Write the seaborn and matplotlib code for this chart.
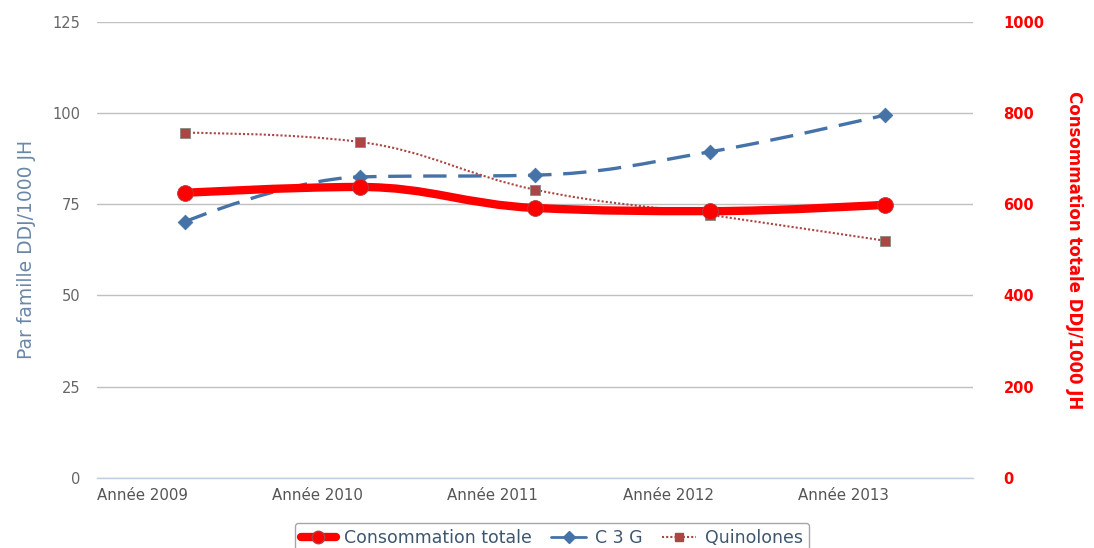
import numpy as np
import pandas as pd
import seaborn as sns
import matplotlib.pyplot as plt
from matplotlib.path import Path
from matplotlib.patches import PathPatch
from matplotlib.lines import Line2D

years = ['Année 2009', 'Année 2010', 'Année 2011', 'Année 2012', 'Année 2013']
conso_totale = [625, 638, 592, 585, 599]
c3g = [70.2, 82.5, 83.0, 89.4, 99.5]
quinolones = [94.6, 92.1, 79.0, 72.1, 65.0]

RED = '#FF0000'
BLUE = '#4572A7'
BROWN = '#AA4643'


def spline_path(xs, ys, smoothing=1.5):
    # cubic bezier through the points, same idea as the highcharts spline
    denom = smoothing + 1
    verts = [(xs[0], ys[0])]
    codes = [Path.MOVETO]
    ctrl = []
    n = len(xs)
    for i in range(n):
        if i == 0 or i == n - 1:
            ctrl.append(((xs[i], ys[i]), (xs[i], ys[i])))
            continue
        lx = (smoothing * xs[i] + xs[i - 1]) / denom
        ly = (smoothing * ys[i] + ys[i - 1]) / denom
        rx = (smoothing * xs[i] + xs[i + 1]) / denom
        ry = (smoothing * ys[i] + ys[i + 1]) / denom
        corr = ((ry - ly) * (rx - xs[i])) / (rx - lx) + ys[i] - ry
        ly += corr
        ry += corr
        if ly > ys[i - 1] and ly > ys[i]:
            ly = max(ys[i - 1], ys[i])
            ry = 2 * ys[i] - ly
        elif ly < ys[i - 1] and ly < ys[i]:
            ly = min(ys[i - 1], ys[i])
            ry = 2 * ys[i] - ly
        if ry > ys[i + 1] and ry > ys[i]:
            ry = max(ys[i + 1], ys[i])
            ly = 2 * ys[i] - ry
        elif ry < ys[i + 1] and ry < ys[i]:
            ry = min(ys[i + 1], ys[i])
            ly = 2 * ys[i] - ry
        ctrl.append(((lx, ly), (rx, ry)))
    for i in range(1, n):
        verts += [ctrl[i - 1][1], ctrl[i][0], (xs[i], ys[i])]
        codes += [Path.CURVE4] * 3
    return Path(verts, codes)


df = pd.DataFrame({'x': range(len(years)), 'annee': years,
                   'conso': conso_totale, 'c3g': c3g, 'quino': quinolones})

sns.set_theme(style='white')
plt.rcParams['font.family'] = ['DejaVu Sans']

fig = plt.figure(figsize=(10.94, 5.48), dpi=100)
ax = fig.add_axes([0.0887, 0.128, 0.8007, 0.832])
ax2 = ax.twinx()

# left axis series
ax.add_patch(PathPatch(spline_path(df['x'], df['c3g']), fill=False,
                       edgecolor=BLUE, lw=2.4, linestyle=(0, (7, 3.5)), zorder=3))
ax.add_patch(PathPatch(spline_path(df['x'], df['quino']), fill=False,
                       edgecolor=BROWN, lw=1.5, linestyle=(0, (1, 1)), zorder=3))
sns.scatterplot(data=df, x='x', y='c3g', marker='D', s=55, color=BLUE,
                edgecolor=BLUE, ax=ax, zorder=4, legend=False)
sns.scatterplot(data=df, x='x', y='quino', marker='s', s=55, color=BROWN,
                edgecolor='#888888', linewidth=0.6, ax=ax, zorder=4, legend=False)

# right axis series
ax2.add_patch(PathPatch(spline_path(df['x'], df['conso']), fill=False,
                        edgecolor=RED, lw=6, capstyle='round', zorder=3))
sns.scatterplot(data=df, x='x', y='conso', marker='o', s=130, color=RED,
                edgecolor='#aa4444', linewidth=0.6, ax=ax2, zorder=4, legend=False)

ax.set_xlim(-0.5, 4.5)
ax.set_ylim(0, 125)
ax2.set_ylim(0, 1000)
ax.set_yticks([0, 25, 50, 75, 100, 125])
ax2.set_yticks([0, 200, 400, 600, 800, 1000])

ax.grid(axis='y', color='#C0C0C0', lw=1)
ax.set_axisbelow(True)
for sp in ['top', 'left', 'right']:
    ax.spines[sp].set_visible(False)
    ax2.spines[sp].set_visible(False)
ax2.spines['bottom'].set_visible(False)
ax.spines['bottom'].set_color('#C0D0E0')
ax.spines['bottom'].set_linewidth(1)
ax.spines['bottom'].set_zorder(1)

ax.set_xticks(np.arange(-0.5, 4.6, 1))
ax.set_xticklabels(years + [''], ha='left', fontsize=10.8, color='#555555')
ax.tick_params(axis='x', length=5, width=1, color='#C0D0E0', direction='out', pad=2)
ax.tick_params(axis='y', length=0, labelsize=10.5, labelcolor='#666666', pad=12)
ax2.tick_params(axis='y', length=0, labelsize=10.5, labelcolor=RED, pad=22)
for t in ax2.get_yticklabels():
    t.set_fontweight('bold')

ax.set_xlabel('')
ax.set_ylabel('Par famille DDJ/1000 JH', color='#6A87A8', fontsize=13.5, labelpad=12)
ax2.set_ylabel('Consommation totale DDJ/1000 JH', color=RED, fontsize=12,
               fontweight='bold', rotation=270, labelpad=28)

handles = [
    Line2D([], [], color=RED, lw=6, marker='o', markersize=9, markeredgecolor='#aa4444'),
    Line2D([], [], color=BLUE, lw=2, marker='D', markersize=6),
    Line2D([], [], color=BROWN, lw=1.5, linestyle=(0, (1, 1)), marker='s', markersize=6),
]
leg = fig.legend(handles, ['Consommation totale', 'C 3 G', 'Quinolones'],
                 loc='upper center', bbox_to_anchor=(0.5046, 0.062), ncol=3,
                 fontsize=12.5, frameon=True, fancybox=True, edgecolor='#909090',
                 handlelength=2.0, columnspacing=1.1, handletextpad=0.5,
                 borderpad=0.35)
for t in leg.get_texts():
    t.set_color('#3E576F')

fig.savefig('out.png', dpi=100)
